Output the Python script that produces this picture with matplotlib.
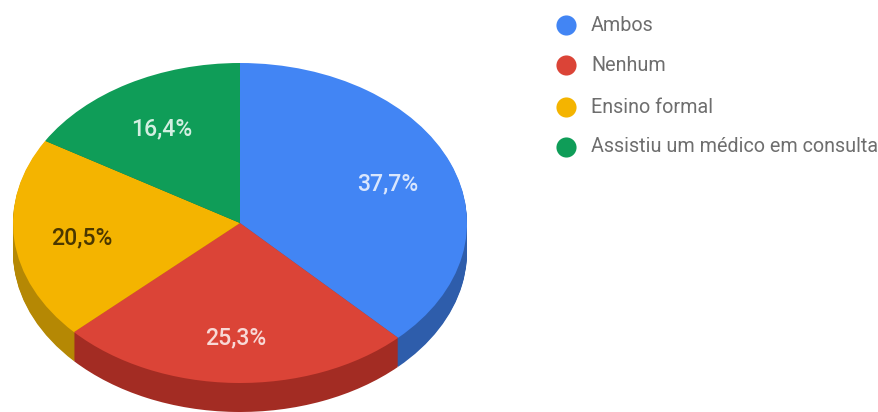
import matplotlib
matplotlib.use("Agg")
import matplotlib.pyplot as plt

plt.rcParams["font.family"] = ["Roboto", "DejaVu Sans"]

labels = ["Ambos", "Nenhum", "Ensino formal", "Assistiu um médico em consulta"]
shares = [37.7, 25.3, 20.5, 16.4]

top_colors = ["#4285f4", "#db4437", "#f4b400", "#0f9d58"]
side_colors = ["#2e5dab", "#a32c23", "#b58804", "#0b6e3e"]
label_colors = ["#d9e6fd", "#f8d9d6", "#4a3700", "#d3efe1"]

W, H = 879, 412
CX, CY, RX, RY = 240, 223, 227, 160   # ellipse of the top face, in pixels
DEPTH_PX = 29

fig = plt.figure(figsize=(W / 100, H / 100), dpi=100)

# the pie axes is stretched so the unit circle comes out as the tilted ellipse
ax = fig.add_axes([0, 0, 1, 1])

# rim: the same pie stacked downwards in the darker colours
for d in range(DEPTH_PX, 0, -1):
    ax.pie(shares, colors=side_colors, startangle=90, counterclock=False,
           center=(0, -d / RY), radius=1.0, wedgeprops={"linewidth": 0})

wedges, _, autotexts = ax.pie(
    shares, colors=top_colors, startangle=90, counterclock=False,
    center=(0, 0), radius=1.0, wedgeprops={"linewidth": 0},
    autopct=lambda p: f"{p:.1f}%".replace(".", ","), pctdistance=0.7)
for t, c in zip(autotexts, label_colors):
    t.set_color(c)
    t.set_fontsize(16.6)
    t.set_fontweight("medium")
    x, y = t.get_position()
    t.set_position((x, y - 3 / RY))   # sit the labels a little lower on the tilted face

ax.set_aspect("auto")
ax.set_xlim(-CX / RX, (W - CX) / RX)
ax.set_ylim((CY - H) / RY, CY / RY)

# legend column, on a pixel-scaled overlay
lg = fig.add_axes([0, 0, 1, 1], facecolor="none")
lg.set_xlim(0, W)
lg.set_ylim(H, 0)
lg.axis("off")
legend_y = [25, 65, 107, 147]
for y, name, c in zip(legend_y, labels, top_colors):
    lg.scatter([566], [y], s=210, color=c, linewidths=0)
    lg.text(591, y, name, color="#6e6e6e", fontsize=14.2, va="center", ha="left")

fig.savefig("out.png", dpi=100)
